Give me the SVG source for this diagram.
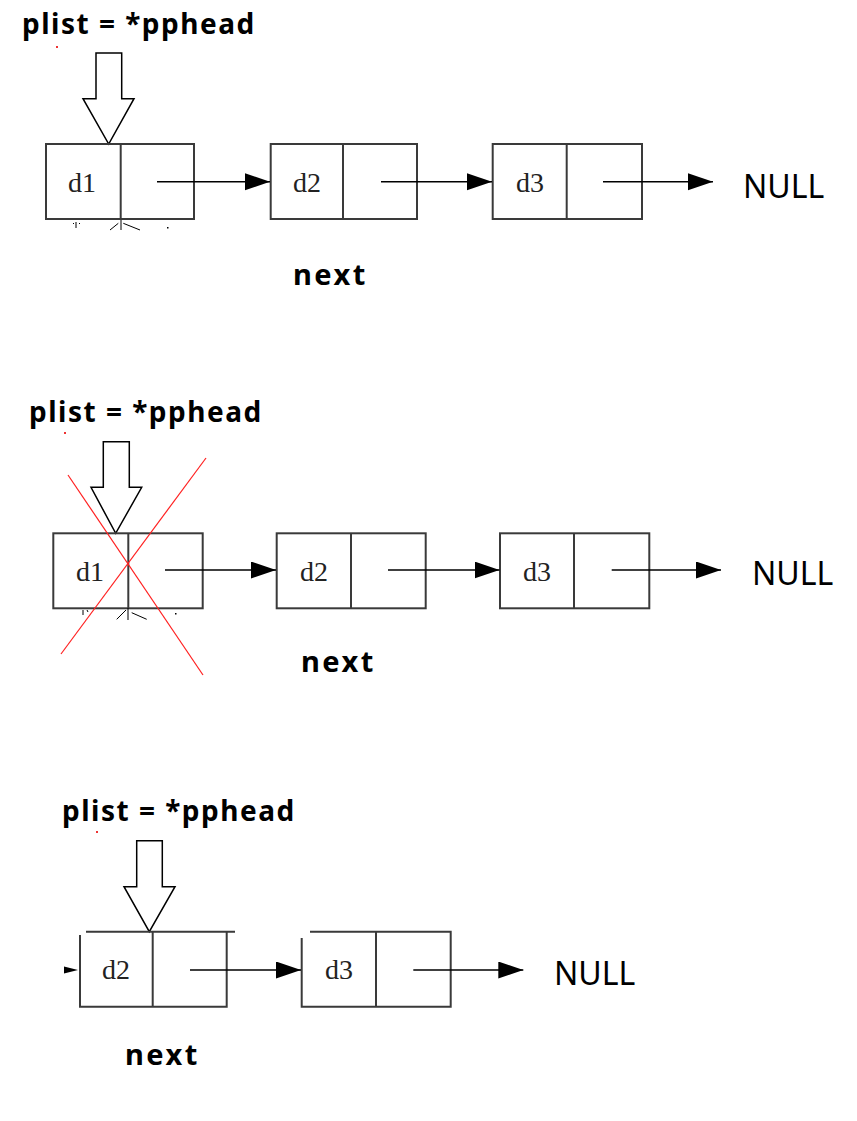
<svg xmlns="http://www.w3.org/2000/svg" width="857" height="1121" viewBox="0 0 857 1121">
<style>
.title{font-family:"Noto Sans","Liberation Sans",sans-serif;font-weight:bold;font-size:28px;letter-spacing:1.5px;fill:#000}
.nx{font-family:"Noto Sans","Liberation Sans",sans-serif;font-weight:bold;font-size:29px;letter-spacing:2.5px;fill:#000}
.null{font-family:"Noto Sans","Liberation Sans",sans-serif;font-size:32px;fill:#000}
.d{font-family:"Liberation Serif",serif;font-size:28px;fill:#222;text-anchor:middle}
.box{fill:none;stroke:#3a3a3a;stroke-width:2}
.hollow{fill:#fff;stroke:#000;stroke-width:1.5;stroke-linejoin:miter}
.link{stroke:#000;stroke-width:1.6;fill:none;marker-end:url(#ah)}
.frag{stroke:#000;stroke-width:1;fill:none}
.cross{stroke:#ff2020;stroke-width:1.2;fill:none}
</style>
<defs>
<marker id="ah" markerUnits="userSpaceOnUse" markerWidth="26" markerHeight="18" refX="25" refY="8.5" orient="auto">
<path d="M0,0 L25,8.5 L0,17 Z" fill="#000"/>
</marker>
</defs>
<rect width="857" height="1121" fill="#fff"/>

<!-- Section 1 -->
<g id="title1"><text class="title" x="22" y="34">plist = *pphead</text><rect x="56" y="46" width="2" height="2" fill="#e33"/></g>
<g id="pointer1"><path class="hollow" d="M96,53 L121.7,53 L121.7,98.7 L134,98.7 L108.7,144 L83,98.7 L96,98.7 Z"/></g>
<g id="node1_d1">
<rect class="box" x="46" y="144" width="148" height="75"/>
<line class="box" x1="120.7" y1="144" x2="120.7" y2="219"/>
<text class="d" x="82" y="191.5">d1</text>
<path class="frag" d="M76,222 L76,228 M73,223 L74,224 M79,223 L80,224 M121,220 L121,230 M110,230 L118.3,223.3 M123.3,223.3 L140,230"/>
<rect x="167" y="227" width="1.5" height="1.5" fill="#000"/>
</g>
<g id="node1_d2">
<rect class="box" x="270.7" y="144" width="146.3" height="75"/>
<line class="box" x1="343" y1="144" x2="343" y2="219"/>
<text class="d" x="307" y="191.5">d2</text>
</g>
<g id="node1_d3">
<rect class="box" x="492.7" y="144" width="149.3" height="75"/>
<line class="box" x1="566.7" y1="144" x2="566.7" y2="219"/>
<text class="d" x="530" y="191.5">d3</text>
</g>
<g id="null1"><text class="null" x="743" y="198">NULL</text></g>
<g id="next1"><text class="nx" x="293" y="285">next</text></g>

<!-- Section 2 -->
<g id="title2"><text class="title" x="29" y="422">plist = *pphead</text><rect x="64" y="432" width="2" height="2" fill="#e33"/></g>
<g id="pointer2"><path class="hollow" d="M103.3,441.7 L129.3,441.7 L129.3,487.3 L141.7,487.3 L115.7,533.3 L91,487.3 L103.3,487.3 Z"/></g>
<g id="node2_d1">
<rect class="box" x="53.3" y="533.3" width="149.4" height="75"/>
<line class="box" x1="128.3" y1="533.3" x2="128.3" y2="608.3"/>
<text class="d" x="90" y="580.5">d1</text>
<path class="frag" d="M83,610 L83,615 M87,610 L88,612 M128,608 L128,620 M116.7,619.3 L126,610 M131.7,612.7 L146.7,619.3"/>
<rect x="175" y="613" width="1.5" height="1.5" fill="#000"/>
</g>
<g id="node2_d2">
<rect class="box" x="276.7" y="533.3" width="149" height="75"/>
<line class="box" x1="351" y1="533.3" x2="351" y2="608.3"/>
<text class="d" x="314" y="580.5">d2</text>
</g>
<g id="node2_d3">
<rect class="box" x="500" y="533.3" width="149.3" height="75"/>
<line class="box" x1="574" y1="533.3" x2="574" y2="608.3"/>
<text class="d" x="537" y="580.5">d3</text>
</g>
<g id="null2"><text class="null" x="752" y="585">NULL</text></g>
<g id="next2"><text class="nx" x="301" y="672">next</text></g>
<g id="cross"><line class="cross" x1="68" y1="475" x2="203" y2="675"/><line class="cross" x1="206" y1="458" x2="61" y2="654"/></g>

<!-- Section 3 -->
<g id="title3"><text class="title" x="62" y="821">plist = *pphead</text><rect x="96" y="831" width="2" height="2" fill="#e33"/></g>
<g id="pointer3"><path class="hollow" d="M136.7,840.7 L162.3,840.7 L162.3,886.7 L175,886.7 L149.3,931.7 L124,886.7 L136.7,886.7 Z"/></g>
<g id="node3_d2">
<path class="box" d="M86,931.7 L235,931.7 M80,935 L80,1006.7 L226.7,1006.7 L226.7,931.7 M152.7,931.7 L152.7,1006.7"/>
<path d="M64,966.5 L78,970 L64,973.5 Z" fill="#000"/>
<text class="d" x="116" y="978.5">d2</text>
</g>
<g id="node3_d3">
<path class="box" d="M310,931.7 L450.7,931.7 L450.7,1006.7 L301.7,1006.7 L301.7,938 M376,931.7 L376,1006.7"/>
<text class="d" x="339" y="978.5">d3</text>
</g>
<g id="null3"><text class="null" x="554" y="985">NULL</text></g>
<g id="next3"><text class="nx" x="125" y="1065">next</text></g>

<g id="connectors">
<line class="link" x1="157" y1="181.7" x2="270" y2="181.7"/>
<line class="link" x1="381" y1="181.7" x2="492" y2="181.7"/>
<line class="link" x1="603" y1="181.7" x2="713" y2="181.7"/>
<line class="link" x1="165" y1="570" x2="276" y2="570"/>
<line class="link" x1="388" y1="570" x2="499.5" y2="570"/>
<line class="link" x1="611.7" y1="570" x2="721" y2="570"/>
<line class="link" x1="190" y1="970" x2="301" y2="970"/>
<line class="link" x1="413.3" y1="970" x2="523.3" y2="970"/>
</g>
</svg>
